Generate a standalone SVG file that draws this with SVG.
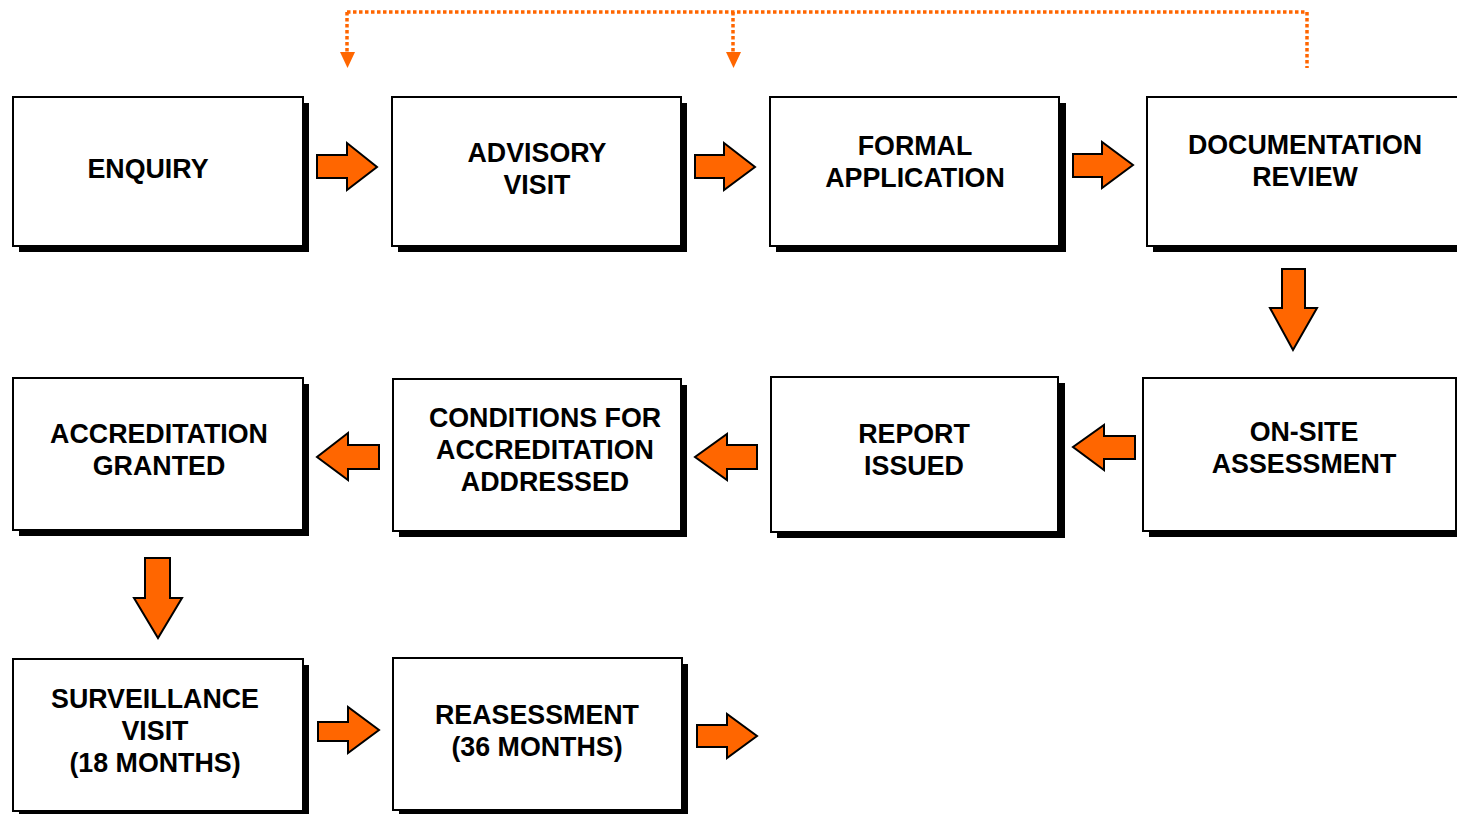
<svg xmlns="http://www.w3.org/2000/svg" width="1457" height="814" viewBox="0 0 1457 814">
<style>
.box{fill:#fff;stroke:#000;stroke-width:2}
.sh{fill:#000}
.t{font-family:"Liberation Sans",Arial,sans-serif;font-weight:bold;font-size:26.8px;fill:#000;text-anchor:middle}
.ar{fill:#FF6600;stroke:#000;stroke-width:2;stroke-linejoin:miter}
.dot{fill:none;stroke:#FF6600;stroke-width:3.5;stroke-dasharray:3.5 2.5}
.dh{fill:#FF6600}
</style>
<rect width="1457" height="814" fill="#fff"/>
<g id="connectors">
<path class="dot" d="M347 12 H1307 V68"/>
<path class="dot" d="M347 12 V54"/>
<path class="dot" d="M733 12 V54"/>
<polygon class="dh" points="340,52 355,52 347.5,68"/>
<polygon class="dh" points="726,52 741,52 733.5,68"/>
<polygon class="ar" points="317,155 347,155 347,143 377,167 347,190 347,178 317,178"/>
<polygon class="ar" points="695,155 724,155 724,143 755,167 724,190 724,178 695,178"/>
<polygon class="ar" points="1073,154 1102,154 1102,142 1133,165 1102,188 1102,177 1073,177"/>
<polygon class="ar" points="1282,269 1305,269 1305,308 1317,308 1293,350 1270,308 1282,308"/>
<polygon class="ar" points="1135,436 1104,436 1104,425 1073,447 1104,470 1104,459 1135,459"/>
<polygon class="ar" points="757,445 727,445 727,434 695,457 727,480 727,469 757,469"/>
<polygon class="ar" points="379,445 348,445 348,433 317,457 348,480 348,469 379,469"/>
<polygon class="ar" points="145,558 170,558 170,598 182,598 158,638 134,598 145,598"/>
<polygon class="ar" points="318,722 348,722 348,707 379,730 348,753 348,741 318,741"/>
<polygon class="ar" points="697,725 727,725 727,714 757,736 727,758 727,747 697,747"/>
</g>
<g id="enquiry">
<rect class="sh" x="19" y="103" width="290" height="149"/>
<rect class="box" x="13" y="97" width="290" height="149"/>
<text class="t" x="148" y="178">ENQUIRY</text>
</g>
<g id="advisory">
<rect class="sh" x="398" y="103" width="289" height="149"/>
<rect class="box" x="392" y="97" width="289" height="149"/>
<text class="t" x="537" y="162">ADVISORY</text>
<text class="t" x="537" y="194">VISIT</text>
</g>
<g id="formal">
<rect class="sh" x="776" y="103" width="290" height="149"/>
<rect class="box" x="770" y="97" width="289" height="149"/>
<text class="t" x="915" y="155">FORMAL</text>
<text class="t" x="915" y="187">APPLICATION</text>
</g>
<g id="documentation">
<rect class="sh" x="1153" y="103" width="320" height="149"/>
<rect class="box" x="1147" y="97" width="316" height="149"/>
<text class="t" x="1305" y="154">DOCUMENTATION</text>
<text class="t" x="1305" y="186">REVIEW</text>
</g>
<g id="onsite">
<rect class="sh" x="1149" y="384" width="320" height="153"/>
<rect class="box" x="1143" y="378" width="313" height="153"/>
<text class="t" x="1304" y="441">ON-SITE</text>
<text class="t" x="1304" y="473">ASSESSMENT</text>
</g>
<g id="report">
<rect class="sh" x="777" y="383" width="288" height="155"/>
<rect class="box" x="771" y="377" width="287" height="155"/>
<text class="t" x="914" y="443">REPORT</text>
<text class="t" x="914" y="475">ISSUED</text>
</g>
<g id="conditions">
<rect class="sh" x="399" y="385" width="288" height="152"/>
<rect class="box" x="393" y="379" width="288" height="152"/>
<text class="t" x="545" y="427">CONDITIONS FOR</text>
<text class="t" x="545" y="459">ACCREDITATION</text>
<text class="t" x="545" y="491">ADDRESSED</text>
</g>
<g id="granted">
<rect class="sh" x="19" y="384" width="290" height="152"/>
<rect class="box" x="13" y="378" width="290" height="152"/>
<text class="t" x="159" y="443">ACCREDITATION</text>
<text class="t" x="159" y="475">GRANTED</text>
</g>
<g id="surveillance">
<rect class="sh" x="19" y="665" width="290" height="155"/>
<rect class="box" x="13" y="659" width="290" height="152"/>
<text class="t" x="155" y="708">SURVEILLANCE</text>
<text class="t" x="155" y="740">VISIT</text>
<text class="t" x="155" y="772">(18 MONTHS)</text>
</g>
<g id="reassessment">
<rect class="sh" x="399" y="664" width="289" height="155"/>
<rect class="box" x="393" y="658" width="289" height="152"/>
<text class="t" x="537" y="724">REASESSMENT</text>
<text class="t" x="537" y="756">(36 MONTHS)</text>
</g>
</svg>
